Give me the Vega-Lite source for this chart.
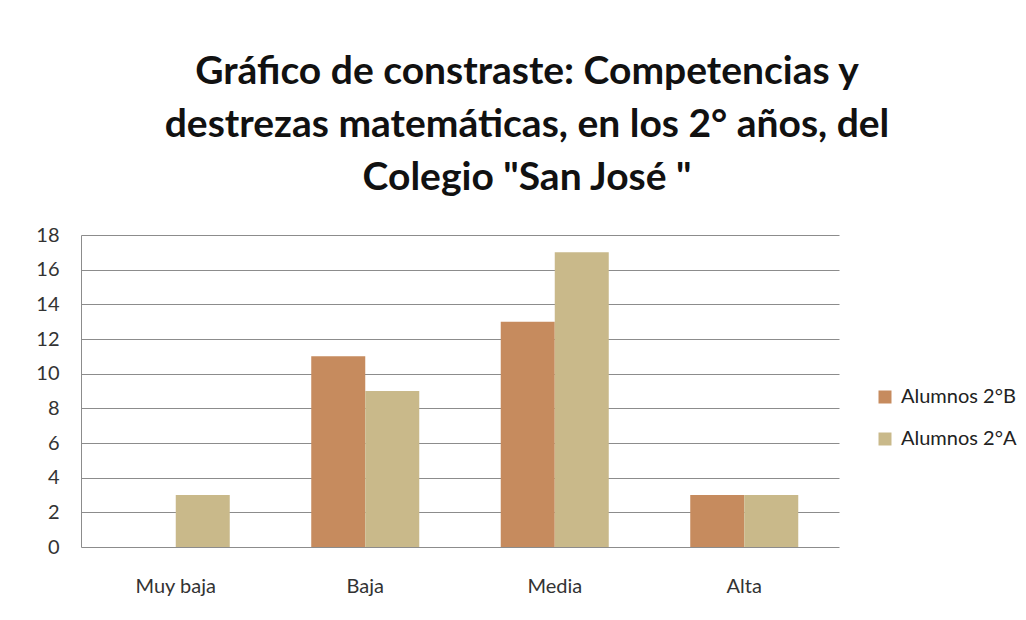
{
  "$schema": "https://vega.github.io/schema/vega-lite/v6.json",
  "width": 758,
  "height": 312,
  "autosize": "none",
  "padding": {"left": 81, "top": 235, "right": 187, "bottom": 73},
  "background": "white",
  "config": {"view": {"stroke": null}, "font": "Lato"},
  "title": {
    "text": ["Gráfico de constraste: Competencias y", "destrezas matemáticas, en los 2° años, del", "Colegio \"San José \""],
    "font": "Lato",
    "fontSize": 39,
    "fontWeight": "bold",
    "color": "#111111",
    "anchor": "middle",
    "frame": "group",
    "dx": 67,
    "offset": 27,
    "lineHeight": 53
  },
  "data": {
    "values": [
      {"nivel": "Muy baja", "grupo": "Alumnos 2°B", "valor": 0},
      {"nivel": "Muy baja", "grupo": "Alumnos 2°A", "valor": 3},
      {"nivel": "Baja", "grupo": "Alumnos 2°B", "valor": 11},
      {"nivel": "Baja", "grupo": "Alumnos 2°A", "valor": 9},
      {"nivel": "Media", "grupo": "Alumnos 2°B", "valor": 13},
      {"nivel": "Media", "grupo": "Alumnos 2°A", "valor": 17},
      {"nivel": "Alta", "grupo": "Alumnos 2°B", "valor": 3},
      {"nivel": "Alta", "grupo": "Alumnos 2°A", "valor": 3}
    ]
  },
  "mark": {"type": "bar"},
  "encoding": {
    "x": {
      "field": "nivel",
      "type": "nominal",
      "sort": ["Muy baja", "Baja", "Media", "Alta"],
      "scale": {"paddingInner": 0.43, "paddingOuter": 0.215},
      "axis": {"title": null, "labelAngle": 0, "ticks": false, "domain": false, "labelFontSize": 20, "labelColor": "#333333", "labelPadding": 29, "labelFont": "Lato"}
    },
    "xOffset": {"field": "grupo", "type": "nominal", "sort": ["Alumnos 2°B", "Alumnos 2°A"]},
    "y": {
      "field": "valor",
      "type": "quantitative",
      "scale": {"domain": [0, 18]},
      "axis": {"title": null, "values": [0, 2, 4, 6, 8, 10, 12, 14, 16, 18], "ticks": false, "grid": true, "gridColor": "#8c8c8c", "gridOpacity": 1, "domainColor": "#8c8c8c", "labelFontSize": 20, "labelColor": "#333333", "labelPadding": 22, "labelFont": "Lato"}
    },
    "color": {
      "field": "grupo",
      "type": "nominal",
      "sort": ["Alumnos 2°B", "Alumnos 2°A"],
      "scale": {"domain": ["Alumnos 2°B", "Alumnos 2°A"], "range": ["#c68b5e", "#c9b98a"]},
      "legend": {"title": null, "orient": "none", "legendX": 794, "legendY": 152, "symbolType": "square", "symbolSize": 169, "symbolStrokeWidth": 0, "labelFontSize": 20, "labelColor": "#222222", "labelFont": "Lato", "rowPadding": 22, "labelOffset": 6}
    }
  }
}
